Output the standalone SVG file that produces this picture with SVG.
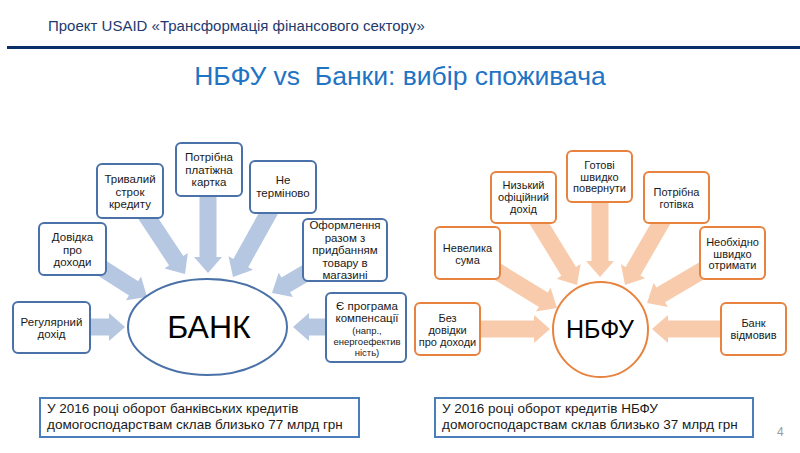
<svg xmlns="http://www.w3.org/2000/svg" width="800" height="453" viewBox="0 0 800 453">
<style>
text{font-family:"Liberation Sans",Arial,sans-serif;fill:#1a1a1a}
.hdr{font-size:15px;fill:#1F3A6E}
.ttl{font-size:26.5px;fill:#1F74C4}
.bn{fill:#fff;stroke:#4A72A8;stroke-width:2}
.on{fill:#fff;stroke:#E8833F;stroke-width:2}
.ab{fill:#B6C7E2}
.ao{fill:#F8CBAD}
.t{font-size:11.5px;text-anchor:middle}
.tr{font-size:11px;text-anchor:middle}
.ts{font-size:9.5px;text-anchor:middle}
.note{fill:#fff;stroke:#4A7EBB;stroke-width:2}
.nt{font-size:13.5px}
</style>
<defs>
<polygon id="ah" points="-16,-8.5 -16,-14 0,0 -16,14 -16,8.5"/>
</defs>
<rect width="800" height="453" fill="#fff"/>
<text class="hdr" x="48" y="31">Проект USAID «Трансформація фінансового сектору»</text>
<rect x="7" y="46" width="793" height="3" fill="#0B2F6B"/>
<text class="ttl" x="400" y="85" text-anchor="middle" xml:space="preserve">НБФУ vs  Банки: вибір споживача</text>

<g id="connectors">
<g class="ab">
<g transform="translate(125,327) rotate(0)"><rect x="-74" y="-8.5" width="60" height="17"/><use href="#ah"/></g>
<g transform="translate(147,297) rotate(32.6)"><rect x="-89" y="-8.5" width="75" height="17"/><use href="#ah"/></g>
<g transform="translate(185,274) rotate(56.5)"><rect x="-100" y="-8.5" width="86" height="17"/><use href="#ah"/></g>
<g transform="translate(208,273) rotate(90)"><rect x="-103" y="-8.5" width="89" height="17"/><use href="#ah"/></g>
<g transform="translate(233,277) rotate(119.1)"><rect x="-103" y="-8.5" width="89" height="17"/><use href="#ah"/></g>
<g transform="translate(272,293) rotate(149.5)"><rect x="-85" y="-8.5" width="71" height="17"/><use href="#ah"/></g>
<g transform="translate(293,327) rotate(180)"><rect x="-73" y="-8.5" width="59" height="17"/><use href="#ah"/></g>
</g>
<g class="ao">
<g transform="translate(550,329) rotate(0)"><rect x="-103" y="-8.5" width="89" height="17"/><use href="#ah"/></g>
<g transform="translate(557,308) rotate(31.4)"><rect x="-105" y="-8.5" width="91" height="17"/><use href="#ah"/></g>
<g transform="translate(577,285) rotate(58.5)"><rect x="-103" y="-8.5" width="89" height="17"/><use href="#ah"/></g>
<g transform="translate(600,277) rotate(90)"><rect x="-101" y="-8.5" width="87" height="17"/><use href="#ah"/></g>
<g transform="translate(625,285) rotate(120.1)"><rect x="-102" y="-8.5" width="88" height="17"/><use href="#ah"/></g>
<g transform="translate(647,303) rotate(149.5)"><rect x="-99" y="-8.5" width="85" height="17"/><use href="#ah"/></g>
<g transform="translate(652,329) rotate(180)"><rect x="-101" y="-8.5" width="87" height="17"/><use href="#ah"/></g>
</g>
</g>

<g id="bank">
<ellipse cx="207.5" cy="327" rx="79.5" ry="48" class="bn"/>
<text x="209" y="338" font-size="32" text-anchor="middle" style="fill:#000">БАНК</text>
</g>
<g id="b1"><rect x="13" y="302" width="77" height="51" rx="5" class="bn"/>
<text class="t" x="51.5" y="325.5">Регулярний</text><text class="t" x="51.5" y="338">дохід</text></g>
<g id="b2"><rect x="39" y="223" width="67" height="52" rx="5" class="bn"/>
<text class="t" x="72.5" y="241">Довідка</text><text class="t" x="72.5" y="253.5">про</text><text class="t" x="72.5" y="266">доходи</text></g>
<g id="b3"><rect x="97" y="164" width="66" height="54" rx="5" class="bn"/>
<text class="t" x="130" y="183">Тривалий</text><text class="t" x="130" y="195.5">строк</text><text class="t" x="130" y="208">кредиту</text></g>
<g id="b4"><rect x="176" y="143" width="66" height="53" rx="5" class="bn"/>
<text class="t" x="209" y="161">Потрібна</text><text class="t" x="209" y="173.5">платіжна</text><text class="t" x="209" y="186">картка</text></g>
<g id="b5"><rect x="250" y="161" width="66" height="52" rx="5" class="bn"/>
<text class="t" x="283" y="184">Не</text><text class="t" x="283" y="197">терміново</text></g>
<g id="b6"><rect x="303" y="219" width="84" height="62" rx="5" class="bn"/>
<text class="t" x="345" y="229">Оформлення</text><text class="t" x="345" y="241.5">разом з</text><text class="t" x="345" y="254">придбанням</text><text class="t" x="345" y="266.5">товару в</text><text class="t" x="345" y="279">магазині</text></g>
<g id="b7"><rect x="326" y="293" width="80" height="69" rx="5" class="bn"/>
<text class="t" x="367" y="309.5">Є програма</text><text class="t" x="367" y="322">компенсації</text><text class="ts" x="367" y="334">(напр.,</text><text class="ts" x="367" y="345">енергоефектив</text><text class="ts" x="367" y="356">ність)</text></g>

<g id="nbfu">
<circle cx="600.5" cy="329.5" r="47.5" class="on"/>
<text x="600" y="338" font-size="25" text-anchor="middle" style="fill:#000">НБФУ</text>
</g>
<g id="o1"><rect x="415" y="303" width="65" height="52" rx="5" class="on"/>
<text class="tr" x="447.5" y="322">Без</text><text class="tr" x="447.5" y="334">довідки</text><text class="tr" x="447.5" y="346">про доходи</text></g>
<g id="o2"><rect x="435" y="227" width="65" height="52" rx="5" class="on"/>
<text class="tr" x="467.5" y="252">Невелика</text><text class="tr" x="467.5" y="263.5">сума</text></g>
<g id="o3"><rect x="491" y="172" width="65" height="51" rx="5" class="on"/>
<text class="tr" x="523.5" y="189">Низький</text><text class="tr" x="523.5" y="201">офіційний</text><text class="tr" x="523.5" y="213">дохід</text></g>
<g id="o4"><rect x="567" y="151" width="65" height="51" rx="5" class="on"/>
<text class="tr" x="599.5" y="169">Готові</text><text class="tr" x="599.5" y="180.5">швидко</text><text class="tr" x="599.5" y="192">повернути</text></g>
<g id="o5"><rect x="644" y="172" width="65" height="51" rx="5" class="on"/>
<text class="tr" x="676.5" y="196">Потрібна</text><text class="tr" x="676.5" y="207.5">готівка</text></g>
<g id="o6"><rect x="700" y="227" width="65" height="52" rx="5" class="on"/>
<text class="tr" x="732.5" y="246">Необхідно</text><text class="tr" x="732.5" y="257.5">швидко</text><text class="tr" x="732.5" y="269">отримати</text></g>
<g id="o7"><rect x="721" y="303" width="65" height="52" rx="5" class="on"/>
<text class="tr" x="753.5" y="327">Банк</text><text class="tr" x="753.5" y="339">відмовив</text></g>

<g id="note1"><rect x="40" y="398" width="319" height="39" class="note"/>
<text class="nt" x="47" y="413">У 2016 році оборот банківських кредитів</text>
<text class="nt" x="47" y="428.5">домогосподарствам склав близько 77 млрд грн</text></g>
<g id="note2"><rect x="435" y="398" width="318" height="39" class="note"/>
<text class="nt" x="442" y="413">У 2016 році оборот кредитів НБФУ</text>
<text class="nt" x="442" y="428.5">домогосподарствам склав близько 37 млрд грн</text></g>
<text x="777" y="436" font-size="12" style="fill:#9a9a9a">4</text>
</svg>
